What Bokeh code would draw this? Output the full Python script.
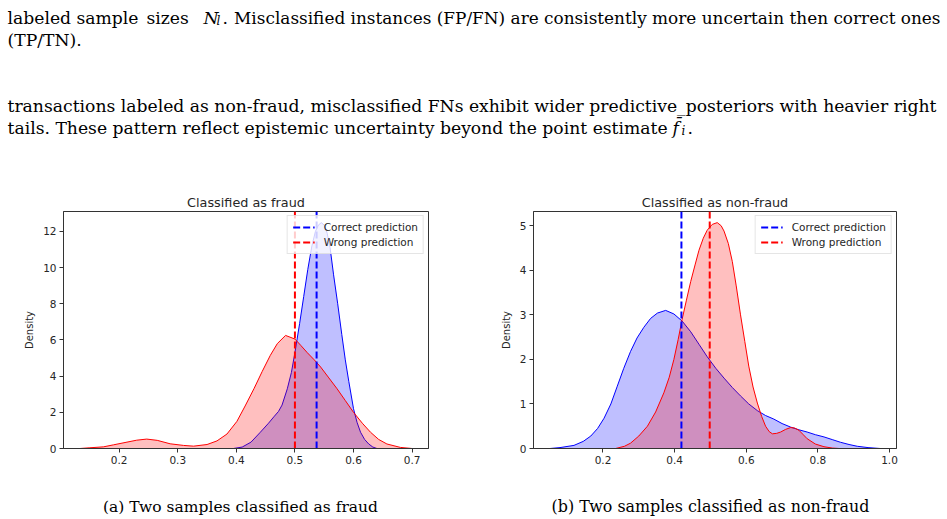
from bokeh.plotting import figure
from bokeh.layouts import column, row
from bokeh.models import FixedTicker, Legend, LegendItem, Range1d
from bokeh.core.properties import value
from bokeh.embed import file_html
from bokeh.resources import INLINE

# ---------------- data ----------------
# (a) classified as fraud
fraud_correct_x = [0.395, 0.41, 0.425, 0.441, 0.455, 0.464, 0.472, 0.478, 0.487, 0.494, 0.5, 0.508,
                   0.515, 0.522, 0.529, 0.535, 0.540, 0.545, 0.550, 0.555, 0.560, 0.566, 0.573,
                   0.580, 0.586, 0.592, 0.600, 0.606, 0.612, 0.619, 0.626, 0.633, 0.640]
fraud_correct_y = [0.0, 0.08, 0.35, 0.9, 1.4, 1.75, 2.05, 2.4, 3.3, 4.2, 5.3, 6.9,
                   8.4, 9.9, 11.2, 12.0, 12.35, 12.48, 12.35, 11.9, 11.1, 9.6, 8.0,
                   6.3, 4.9, 3.7, 2.2, 1.45, 0.9, 0.5, 0.25, 0.08, 0.0]
fraud_wrong_x = [0.133, 0.15, 0.173, 0.19, 0.21, 0.23, 0.247, 0.265, 0.287, 0.31, 0.327, 0.35,
                 0.367, 0.384, 0.401, 0.415, 0.43, 0.444, 0.458, 0.47, 0.484, 0.5, 0.51, 0.521,
                 0.533, 0.544, 0.558, 0.572, 0.586, 0.6, 0.615, 0.629, 0.643, 0.657, 0.68, 0.70]
fraud_wrong_y = [0.0, 0.04, 0.09, 0.2, 0.33, 0.46, 0.52, 0.45, 0.26, 0.17, 0.13, 0.22,
                 0.42, 0.8, 1.5, 2.35, 3.3, 4.25, 5.15, 5.8, 6.25, 6.05, 5.7, 5.3,
                 4.9, 4.5, 3.9, 3.3, 2.65, 2.0, 1.4, 0.9, 0.5, 0.25, 0.06, 0.0]
fraud_mean_correct = 0.537
fraud_mean_wrong = 0.500

# (b) classified as non-fraud
nonfraud_correct_x = [0.052, 0.08, 0.119, 0.145, 0.166, 0.185, 0.203, 0.222, 0.24, 0.258, 0.277,
                      0.295, 0.314, 0.333, 0.352, 0.375, 0.398, 0.421, 0.445, 0.468, 0.491,
                      0.515, 0.538, 0.561, 0.584, 0.607, 0.631, 0.654, 0.677, 0.70, 0.724,
                      0.747, 0.77, 0.793, 0.817, 0.84, 0.863, 0.887, 0.91, 0.94, 0.974]
nonfraud_correct_y = [0.0, 0.02, 0.07, 0.16, 0.28, 0.45, 0.68, 1.0, 1.4, 1.8, 2.18,
                      2.48, 2.72, 2.92, 3.04, 3.1, 3.02, 2.86, 2.62, 2.34, 2.06,
                      1.8, 1.58, 1.37, 1.18, 1.0, 0.85, 0.74, 0.66, 0.56, 0.48,
                      0.42, 0.37, 0.31, 0.26, 0.2, 0.14, 0.09, 0.05, 0.02, 0.0]
nonfraud_wrong_x = [0.235, 0.26, 0.277, 0.30, 0.324, 0.347, 0.37, 0.385, 0.398, 0.41, 0.421, 0.433,
                    0.445, 0.457, 0.468, 0.48, 0.491, 0.505, 0.519, 0.53, 0.538, 0.55, 0.561,
                    0.572, 0.584, 0.596, 0.607, 0.619, 0.631, 0.643, 0.654, 0.664, 0.673, 0.685,
                    0.696, 0.71, 0.724, 0.735, 0.747, 0.758, 0.77, 0.793, 0.817, 0.84, 0.86]
nonfraud_wrong_y = [0.0, 0.05, 0.12, 0.28, 0.5, 0.82, 1.25, 1.6, 2.0, 2.45, 2.9, 3.33,
                    3.75, 4.12, 4.45, 4.72, 4.9, 5.03, 5.07, 5.0, 4.88, 4.6, 4.2,
                    3.65, 3.0, 2.4, 1.85, 1.38, 1.02, 0.72, 0.5, 0.38, 0.33, 0.34,
                    0.37, 0.43, 0.47, 0.46, 0.41, 0.32, 0.22, 0.1, 0.04, 0.01, 0.0]
nonfraud_mean_correct = 0.419
nonfraud_mean_wrong = 0.498

fraud_xticks = [0.2, 0.3, 0.4, 0.5, 0.6, 0.7]
fraud_yticks = [0, 2, 4, 6, 8, 10, 12]
nonfraud_xticks = [0.2, 0.4, 0.6, 0.8, 1.0]
nonfraud_xtick_labels = ["0.2", "0.4", "0.6", "0.8", "1.0"]
nonfraud_yticks = [0, 1, 2, 3, 4, 5]

titles = ["Classified as fraud", "Classified as non-fraud"]
legend_labels = ["Correct prediction", "Wrong prediction"]
captions = ["(a) Two samples classified as fraud", "(b) Two samples classified as non-fraud"]

SANS = "DejaVu Sans"
SERIF = "DejaVu Serif"
DARK = "#262626"
BODY = "17.2px"


def kde_panel(title, cx, cy, wx, wy, m_c, m_w, xr, yr, xticks, yticks, width,
              bl, br, xlabels=None):
    p = figure(width=width, height=290, x_range=Range1d(*xr), y_range=Range1d(*yr),
               output_backend="svg", toolbar_location=None,
               min_border_left=bl, min_border_right=br, min_border_top=26,
               min_border_bottom=27)
    p.title.text = title
    p.title.align = "center"
    p.title.text_font = SANS
    p.title.text_font_size = "12.8px"
    p.title.text_font_style = "normal"
    p.title.text_color = DARK
    p.title.standoff = 4
    p.title.offset = 0
    p.grid.visible = False
    p.outline_line_color = "#333333"
    p.outline_line_width = 1
    p.background_fill_color = "white"
    p.border_fill_color = "white"
    for ax in (p.xaxis[0], p.yaxis[0]):
        ax.axis_line_color = "#333333"
        ax.major_tick_line_color = "#333333"
        ax.major_tick_out = 4
        ax.major_tick_in = 0
        ax.minor_tick_line_color = None
        ax.major_label_text_font = SANS
        ax.major_label_text_font_size = "10.5px"
        ax.major_label_text_color = DARK
        ax.major_label_standoff = 3
    p.xaxis.ticker = FixedTicker(ticks=xticks)
    p.yaxis.ticker = FixedTicker(ticks=yticks)
    if xlabels is not None:
        p.xaxis.major_label_overrides = {t: l for t, l in zip(xticks, xlabels)}
    p.yaxis.axis_label = "Density"
    p.yaxis.axis_label_text_font = SANS
    p.yaxis.axis_label_text_font_size = "10px"
    p.yaxis.axis_label_text_font_style = "normal"
    p.yaxis.axis_label_text_color = DARK
    p.yaxis.axis_label_standoff = 5

    # correct (blue) first, wrong (red) on top
    p.varea(x=cx, y1=[0] * len(cx), y2=cy, fill_color="blue", fill_alpha=0.25)
    p.line(cx, cy, line_color="blue", line_width=1)
    p.varea(x=wx, y1=[0] * len(wx), y2=wy, fill_color="red", fill_alpha=0.25)
    p.line(wx, wy, line_color="red", line_width=1)

    rc = p.line([m_c, m_c], [yr[0], yr[1]], line_color="blue", line_width=2, line_dash="7 3")
    rw = p.line([m_w, m_w], [yr[0], yr[1]], line_color="red", line_width=2, line_dash="7 3")

    legend = Legend(items=[LegendItem(label=legend_labels[0], renderers=[rc]),
                           LegendItem(label=legend_labels[1], renderers=[rw])],
                    location="top_right")
    legend.label_text_font = SANS
    legend.label_text_font_size = "10.5px"
    legend.label_text_color = DARK
    legend.glyph_width = 22
    legend.glyph_height = 12
    legend.label_height = 12
    legend.label_standoff = 9
    legend.spacing = 3
    legend.padding = 5
    legend.margin = 4
    legend.border_line_color = "#cccccc"
    legend.border_line_width = 1
    legend.background_fill_alpha = 0.8
    p.add_layout(legend)
    return p


left = kde_panel(titles[0], fraud_correct_x, fraud_correct_y, fraud_wrong_x, fraud_wrong_y,
                 fraud_mean_correct, fraud_mean_wrong, (0.105, 0.728), (0, 13.1),
                 fraud_xticks, fraud_yticks, 473, 63, 45)
right = kde_panel(titles[1], nonfraud_correct_x, nonfraud_correct_y, nonfraud_wrong_x,
                  nonfraud_wrong_y, nonfraud_mean_correct, nonfraud_mean_wrong,
                  (0.006, 1.0195), (0, 5.32), nonfraud_xticks, nonfraud_yticks, 474, 60, 51,
                  xlabels=nonfraud_xtick_labels)


def text_fig(height):
    f = figure(width=947, height=height, x_range=Range1d(0, 947), y_range=Range1d(height, 0),
               output_backend="svg", toolbar_location=None, min_border=0,
               x_axis_location=None, y_axis_location=None)
    f.grid.visible = False
    f.outline_line_color = None
    return f


def put(f, x, y, s, size=BODY, style="normal", align="left"):
    f.text(x=[x], y=[y], text=[s], text_font=value(SERIF), text_font_size=size,
           text_font_style=style, text_align=align, text_baseline="alphabetic",
           text_color="black")


top = text_fig(185)
# justified first line: words placed where the reference puts them
put(top, 7, 17, "labeled")
put(top, 76, 17, "sample")
put(top, 146, 17, "sizes")
put(top, 203, 17, "N", style="italic")
put(top, 216, 20, "l", size="12px", style="italic")
put(top, 222, 17, ".")
put(top, 940, 17, "Misclassified instances (FP/FN) are consistently more uncertain then correct ones",
    size="16.9px", align="right")
put(top, 7, 39, "(TP/TN).")
put(top, 7, 105, "transactions labeled as non-fraud, misclassified FNs exhibit wider predictive_posteriors with heavier right")
put(top, 7, 127, "tails. These pattern reflect epistemic uncertainty beyond the point estimate")
put(top, 672, 127, "f\u0304", style="italic")
put(top, 681, 130, "i", size="12px", style="italic")
put(top, 687, 127, ".")

bottom = text_fig(44)
put(bottom, 240, 31, captions[0], size="15.5px", align="center")
put(bottom, 710, 31, captions[1], size="15.9px", align="center")

layout = column(top, row(left, right, spacing=0), bottom, spacing=0)
open("out.html", "w").write(file_html(layout, INLINE))
